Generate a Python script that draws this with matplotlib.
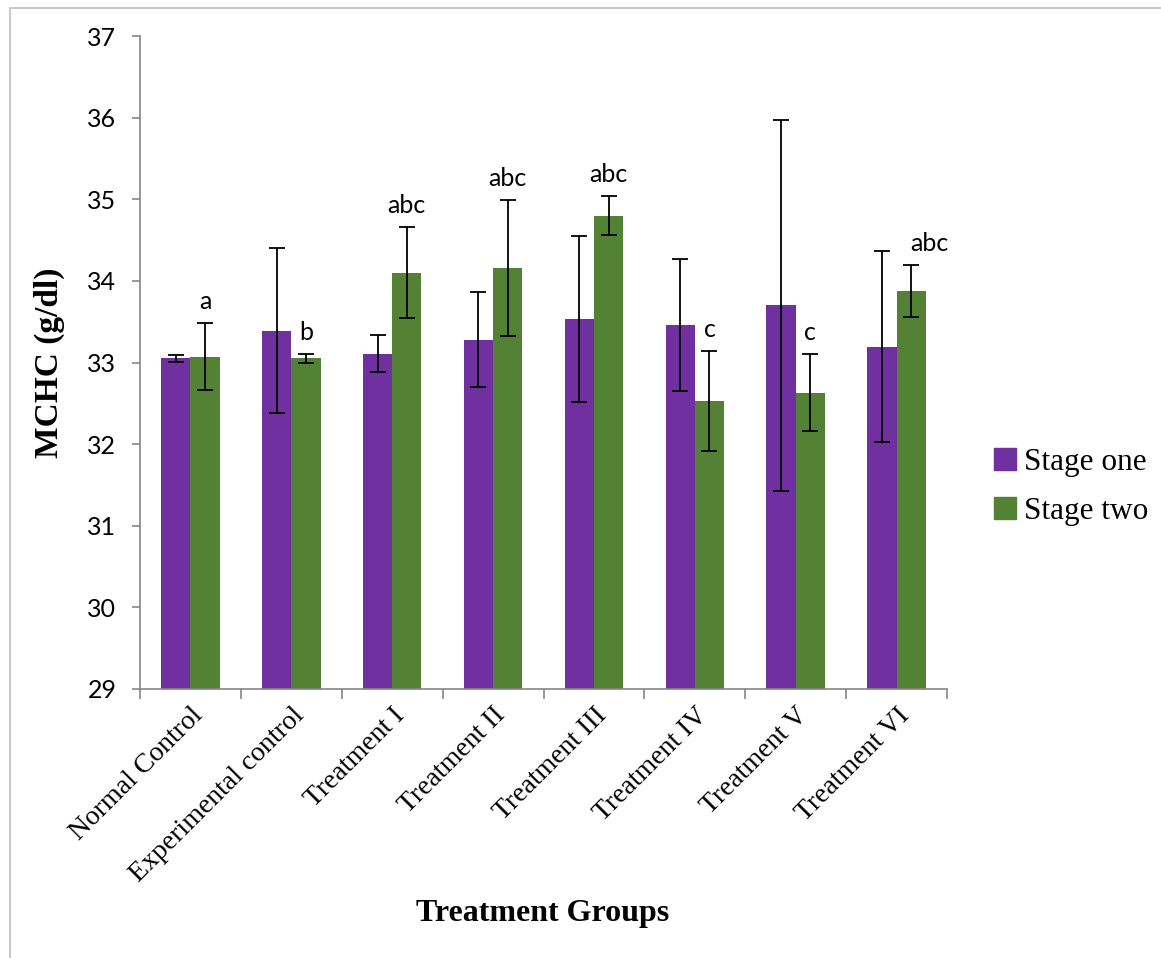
import matplotlib.pyplot as plt
import matplotlib.patches as mpatches
import numpy as np

groups = ['Normal Control', 'Experimental control', 'Treatment I', 'Treatment II',
          'Treatment III', 'Treatment IV', 'Treatment V', 'Treatment VI']
stage_one = [33.05, 33.39, 33.11, 33.28, 33.53, 33.46, 33.70, 33.19]
stage_one_sd = [0.04, 1.01, 0.23, 0.58, 1.02, 0.81, 2.27, 1.17]
stage_two = [33.07, 33.05, 34.10, 34.16, 34.80, 32.53, 32.63, 33.88]
stage_two_sd = [0.41, 0.05, 0.56, 0.83, 0.24, 0.61, 0.47, 0.32]
letters = ['a', 'b', 'abc', 'abc', 'abc', 'c', 'c', 'abc']

purple = '#7030A0'
green = '#548235'
axis_grey = '#868686'

fig = plt.figure(figsize=(11.61, 9.58), dpi=100)
ax = fig.add_axes([140 / 1161, 1 - 689 / 958, 807 / 1161, 653 / 958])

# chart border
fig.patches.append(mpatches.Rectangle((10 / 1161, -0.01), 1.0, 1 - 8 / 958 + 0.01,
                                      transform=fig.transFigure, fill=False,
                                      edgecolor='#BFBFBF', linewidth=1.2))

x = np.arange(len(groups))
w = 0.29
err_kw = dict(ecolor='black', elinewidth=1.3, capsize=6, capthick=1.3)
ax.bar(x - w / 2, stage_one, w, color=purple, label='Stage one',
       yerr=stage_one_sd, error_kw=err_kw, zorder=2)
ax.bar(x + w / 2, stage_two, w, color=green, label='Stage two',
       yerr=stage_two_sd, error_kw=err_kw, zorder=2)

# significance letters over the stage two bars
for i, txt in enumerate(letters):
    top = stage_two[i] + stage_two_sd[i]
    xo = x[i] + w / 2 + (0.18 if i == len(groups) - 1 else 0)
    ax.text(xo, top + 0.17, txt, ha='center', va='baseline',
            fontsize=18, family='Lato', color='black')

ax.set_ylim(29, 37)
ax.set_xlim(-0.5, len(groups) - 0.5)
ax.set_yticks(range(29, 38))
ax.tick_params(axis='y', labelsize=18, color=axis_grey, length=6, width=1.2, pad=11)
for t in ax.get_yticklabels():
    t.set_family('Lato')

ax.set_xticks(np.arange(-0.5, len(groups), 1.0), minor=False)
ax.set_xticklabels([])
ax.set_xticks(x, minor=True)
ax.set_xticklabels(groups, minor=True, rotation=45, ha='right', rotation_mode='anchor',
                   fontsize=20, family='Liberation Serif')
ax.tick_params(axis='x', which='major', color=axis_grey, length=7, width=1.2)
ax.tick_params(axis='x', which='minor', length=0, pad=10)

for s in ['top', 'right']:
    ax.spines[s].set_visible(False)
for s in ['left', 'bottom']:
    ax.spines[s].set_color(axis_grey)
    ax.spines[s].set_linewidth(1.2)

ax.set_ylabel('MCHC (g/dl)', fontsize=24, family='Liberation Serif', fontweight='bold',
              labelpad=16)
fig.text(543 / 1161, 1 - 914 / 958, 'Treatment Groups', ha='center', va='center',
         fontsize=23, family='Liberation Serif', fontweight='bold')

handles = [mpatches.Patch(color=purple), mpatches.Patch(color=green)]
fig.legend(handles, ['Stage one', 'Stage two'], loc='center left',
           bbox_to_anchor=(966 / 1161, 1 - 487 / 958), frameon=False,
           prop={'family': 'Liberation Serif', 'size': 22.5},
           handlelength=0.7, handleheight=0.7, handletextpad=0.25, labelspacing=0.65)

fig.savefig('out.png', dpi=100)
